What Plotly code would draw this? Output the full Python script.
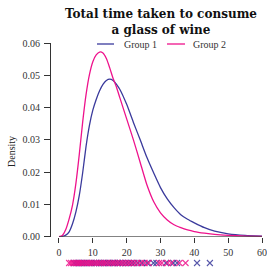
import plotly.graph_objects as go

# ---- data ----
grid = [0, 1, 2, 3, 4, 5, 6, 7, 8, 9, 10, 11, 12, 13, 14, 15, 16, 17, 18, 20,
        22, 24, 26, 28, 30, 32, 34, 36, 38, 40, 43, 46, 50, 55, 60]
density_g1 = [0, 0.0001, 0.0005, 0.0015, 0.0040, 0.0077, 0.0128, 0.0198, 0.0280,
              0.0345, 0.0392, 0.0425, 0.0452, 0.0472, 0.0484, 0.0488, 0.0484,
              0.0472, 0.0456, 0.0410, 0.0354, 0.0300, 0.0245, 0.0197, 0.0152,
              0.0117, 0.0090, 0.0068, 0.0054, 0.0043, 0.0028, 0.0017, 0.0009,
              0.0004, 0.0002]
density_g2 = [0, 0.0004, 0.0022, 0.0055, 0.0098, 0.0165, 0.0255, 0.0355, 0.0440,
              0.0502, 0.0542, 0.0563, 0.0572, 0.0569, 0.0552, 0.0523, 0.0490,
              0.0463, 0.0430, 0.0365, 0.0300, 0.0230, 0.0160, 0.0108, 0.0074,
              0.0052, 0.0037, 0.0028, 0.0021, 0.0016, 0.0011, 0.0007, 0.0004,
              0.0002, 0.0001]
times_g1 = [4.5, 5.2, 5.8, 6.3, 6.9, 7.5, 8.2, 9.0, 9.6, 10.3, 11.0, 11.8, 12.4,
            13.1, 13.7, 14.5, 15.2, 15.9, 16.6, 17.4, 18.1, 18.9, 19.8, 20.6,
            21.5, 22.3, 23.4, 24.6, 26.1, 27.9, 28.8, 31.6, 33.8, 34.9, 40.8, 44.6]
times_g2 = [3.0, 3.6, 4.2, 4.9, 5.5, 6.0, 6.6, 7.2, 7.9, 8.5, 9.2, 9.8, 10.5,
            11.2, 11.9, 12.6, 13.3, 14.0, 14.8, 15.6, 16.3, 17.1, 17.9, 18.7,
            19.5, 20.4, 21.2, 22.1, 23.1, 24.2, 25.3, 26.5, 29.6, 30.4, 32.1,
            33.2, 35.6, 37.4]
labels = ["Group 1", "Group 2"]
x_ticks = [0, 10, 20, 30, 40, 50, 60]
y_ticks = [0.00, 0.01, 0.02, 0.03, 0.04, 0.05, 0.06]

C1 = "#3a3a9c"
C2 = "#ee128c"
SERIF = "Liberation Serif"
AX = "#333333"

W, H = 267, 268
ML, MR, MT = 51, 5, 43
PW, PH = W - ML - MR, H - MT


def px(xw):  # window x -> paper x
    return (xw - ML) / PW


def py(yw):  # window y -> paper y
    return (H - yw) / PH


fig = go.Figure()
for dens, col, name in [(density_g1, C1, labels[0]), (density_g2, C2, labels[1])]:
    fig.add_trace(go.Scatter(x=grid, y=dens, mode="lines", name=name,
                             line=dict(color=col, width=1.3, shape="spline", smoothing=0.6),
                             showlegend=False, xaxis="x", yaxis="y"))
for times, col in [(times_g1, C1), (times_g2, C2)]:
    fig.add_trace(go.Scatter(x=times, y=[0] * len(times), mode="markers",
                             marker=dict(symbol="x-thin", size=6, opacity=0.85,
                                         line=dict(color=col, width=1.1)),
                             showlegend=False, xaxis="x", yaxis="y2"))

# x spine (trimmed to the tick range)
fig.add_shape(type="line", xref="x", yref="y", x0=x_ticks[0], x1=x_ticks[-1],
              y0=0, y1=0, line=dict(color=AX, width=1))

# manual legend
leg = [(labels[0], C1, 97, 114, 122), (labels[1], C2, 167, 185, 191)]
for name, col, xa, xb, xt in leg:
    fig.add_shape(type="line", xref="paper", yref="paper",
                  x0=px(xa), x1=px(xb), y0=py(44), y1=py(44),
                  line=dict(color=col, width=1.3))
    fig.add_annotation(text=name, xref="paper", yref="paper",
                       x=px(xt), y=py(44),
                       xanchor="left", yanchor="middle", showarrow=False,
                       font=dict(family=SERIF, size=10, color="#333333"))

# y axis title
fig.add_annotation(text="Density", xref="paper", yref="paper",
                   x=px(11), y=py(152), textangle=-90,
                   xanchor="center", yanchor="middle", showarrow=False,
                   font=dict(family=SERIF, size=10, color="#222222"))

# title
fig.add_annotation(text="<b>Total time taken to consume<br>a glass of wine</b>",
                   xref="paper", yref="paper", x=px(161), y=py(22),
                   xanchor="center", yanchor="middle", showarrow=False,
                   font=dict(family="DejaVu Serif", size=12, color="#111111"))

fig.update_layout(
    width=W, height=H,
    margin=dict(l=ML, r=MR, t=MT, b=0, autoexpand=False),
    paper_bgcolor="white", plot_bgcolor="white",
    xaxis=dict(range=[-2.36, 60], tickvals=x_ticks,
               ticktext=[str(v) for v in x_ticks],
               showgrid=False, zeroline=False, showline=False,
               ticks="outside", ticklen=5, tickwidth=1, tickcolor=AX,
               ticklabelstandoff=1, ticklabeloverflow="allow",
               tickfont=dict(family=SERIF, size=10, color="#333333"),
               anchor="y"),
    yaxis=dict(domain=[py(236.7), 1], range=[0, 0.06], tickvals=y_ticks,
               ticktext=["%.2f" % v for v in y_ticks],
               showgrid=False, zeroline=False, showline=True, linecolor=AX,
               linewidth=1, ticks="outside", ticklen=6, tickwidth=1,
               tickcolor=AX, ticklabelstandoff=2,
               tickfont=dict(family=SERIF, size=10, color="#333333"),
               anchor="x"),
    yaxis2=dict(domain=[py(268), py(258)], range=[-1, 1], visible=False, anchor="x"),
)

# remove the default page margin so the figure sits at the window corner
fig.write_html("out.html", config={"displayModeBar": False},
               post_script="document.body.style.margin='0';")
